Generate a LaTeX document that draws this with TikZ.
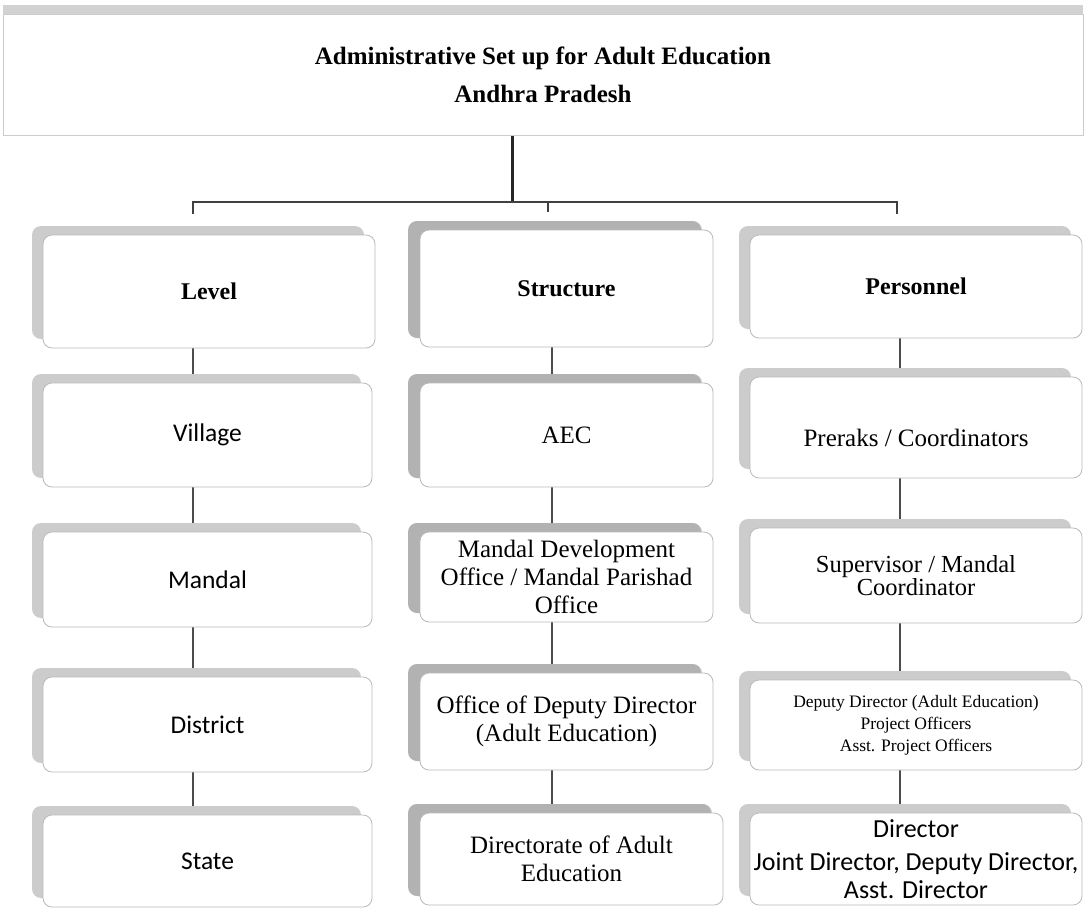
\documentclass[tikz,border=0pt]{standalone}
\usepackage{fontspec}
\setmainfont{Liberation Serif}
\newfontfamily\calfont{Carlito}
\usetikzlibrary{shadows,backgrounds}
\begin{document}
\begin{tikzpicture}[x=1pt,y=-1pt,
  box/.style={draw=gray!55, line width=0.8pt, rounded corners=9pt, fill=white, align=center, inner sep=2pt,
    drop shadow={shadow xshift=-11pt, shadow yshift=9pt, fill=gray!40, opacity=1}},
  boxdark/.style={box, drop shadow={shadow xshift=-12pt, shadow yshift=9pt, fill=gray!60, opacity=1}},
  titlebox/.style={draw=gray!40, line width=0.6pt, fill=white, align=center,
    drop shadow={shadow xshift=0pt, shadow yshift=9pt, fill=gray!35, opacity=1}},
  link/.style={draw=gray!60!black, line width=1.1pt},
  stem/.style={draw=black!85, line width=3pt},
  hline/.style={draw=black!75, line width=1.3pt},
  head/.style={font=\fontsize{24}{28}\selectfont\bfseries},
  serif/.style={font=\fontsize{25}{28}\selectfont},
  sans/.style={font=\fontsize{25.5}{30}\selectfont\calfont},
  small/.style={font=\fontsize{17.5}{22}\selectfont}
]
\useasboundingbox (0,0) rectangle (1086,910);

% title
\node[titlebox, minimum width=1080pt, minimum height=121pt, font=\fontsize{25}{38}\selectfont\bfseries] (T) at (543,74.5)
  {Administrative Set up for Adult Education\\Andhra Pradesh};

% coordinates for connectors
\coordinate (hub) at (512,202);
\coordinate (xL) at (193,0);
\coordinate (xM) at (552,0);
\coordinate (xR) at (900,0);
\coordinate (dL) at (193,214);
\coordinate (dM) at (548,212);
\coordinate (dR) at (897,214);

% left column
\node[box, head, minimum width=332pt, minimum height=113pt] (L0) at (209,291.5) {Level};
\node[box, sans, minimum width=329pt, minimum height=104pt] (L1) at (207.5,435) {Village};
\node[box, sans, minimum width=329pt, minimum height=95pt] (L2) at (207.5,579.5) {Mandal};
\node[box, sans, minimum width=329pt, minimum height=95pt] (L3) at (207.5,724.5) {District};
\node[box, sans, minimum width=329pt, minimum height=92pt] (L4) at (207.5,861) {State};

% middle column
\node[boxdark, head, minimum width=293pt, minimum height=117pt] (M0) at (566.5,288.5) {Structure};
\node[boxdark, serif, minimum width=293pt, minimum height=104pt] (M1) at (566.5,435) {AEC};
\node[boxdark, serif, minimum width=293pt, minimum height=90pt] (M2) at (566.5,577)
  {Mandal Development\\Office / Mandal Parishad\\Office};
\node[boxdark, serif, minimum width=293pt, minimum height=97pt] (M3) at (566.5,721.5)
  {Office of Deputy Director\\(Adult Education)};
\node[boxdark, serif, minimum width=303pt, minimum height=92pt] (M4) at (571.5,859)
  {Directorate of Adult\\Education};

% right column
\node[box, head, minimum width=332pt, minimum height=103pt] (R0) at (916,286.5) {Personnel};
\node[box, minimum width=332pt, minimum height=101pt,
  label={[serif, yshift=-10pt]center:Preraks / Coordinators}] (R1) at (916,427.5) {};
\node[box, minimum width=332pt, minimum height=95pt, font=\fontsize{24.5}{18}\selectfont] (R2) at (916,575.5)
  {Supervisor / Mandal\\Coordinator};
\node[box, small, minimum width=332pt, minimum height=90pt] (R3) at (916,725)
  {Deputy Director (Adult Education)\\Project Officers\\Asst. Project Officers};
\node[box, minimum width=332pt, minimum height=92pt, font=\fontsize{26}{28}\selectfont\calfont] (R4) at (916,859)
  {Director\\[5pt]Joint Director, Deputy Director,\\Asst. Director};

\begin{scope}[on background layer]
  \draw[stem] (T.south -| hub) -- (hub);
  \draw[hline] (dL) -- (dL |- hub) -- (dR |- hub) -- (dR);
  \draw[hline] (hub -| dM) -- (dM);
  \foreach \a/\b in {L0/L1,L1/L2,L2/L3,L3/L4}
    \draw[link] (\a.south -| xL) -- (\b.north -| xL);
  \foreach \a/\b in {M0/M1,M1/M2,M2/M3,M3/M4}
    \draw[link] (\a.south -| xM) -- (\b.north -| xM);
  \foreach \a/\b in {R0/R1,R1/R2,R2/R3,R3/R4}
    \draw[link] (\a.south -| xR) -- (\b.north -| xR);
\end{scope}
\end{tikzpicture}
\end{document}
